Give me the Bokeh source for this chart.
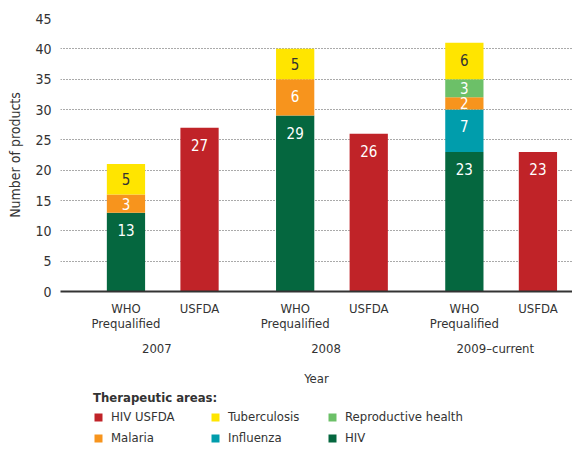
from bokeh.plotting import figure
from bokeh.layouts import column
from bokeh.models import (Range1d, FixedTicker, SingleIntervalTicker, LinearAxis,
                          Legend, LegendItem, ColumnDataSource)
from bokeh.embed import file_html
from bokeh.resources import INLINE
from bokeh.core.properties import value

# ---------------- data ----------------
years = ["2007", "2008", "2009\u2013current"]
sources = ["WHO\nPrequalified", "USFDA"]
hiv = [13, 29, 23]
influenza = [0, 0, 7]
malaria = [3, 6, 2]
reproductive = [0, 0, 3]
tuberculosis = [5, 5, 6]
hiv_usfda = [27, 26, 23]
y_ticks = [0, 5, 10, 15, 20, 25, 30, 35, 40, 45]
legend_title = "Therapeutic areas:"

# ---------------- style ----------------
FONT = "DejaVu Sans Condensed"
C_HIV = "#05673f"
C_INF = "#009dac"
C_MAL = "#f7941d"
C_REP = "#6cc068"
C_TB = "#ffe500"
C_USFDA = "#c02328"
TXT = "#333333"
GROUP_STEP = 2.3
BAR_W = 0.52
W = 572

who_x = [i * GROUP_STEP for i in range(len(years))]
usfda_x = [i * GROUP_STEP + 1 for i in range(len(years))]

p = figure(width=W, height=388,
           x_range=Range1d(-0.89, 6.07), y_range=Range1d(0, 45),
           output_backend="svg", toolbar_location=None,
           min_border_left=60, min_border_top=18, min_border_right=0,
           min_border_bottom=0)
p.outline_line_color = None
p.background_fill_color = "white"

stack_names = ["hiv", "influenza", "malaria", "reproductive", "tuberculosis"]
stack_colors = [C_HIV, C_INF, C_MAL, C_REP, C_TB]
src = ColumnDataSource(dict(x=who_x, hiv=hiv, influenza=influenza, malaria=malaria,
                            reproductive=reproductive, tuberculosis=tuberculosis))
rs = p.vbar_stack(stack_names, x="x", width=BAR_W, color=stack_colors, source=src,
                  line_color=None)
r_us = p.vbar(x=usfda_x, top=hiv_usfda, width=BAR_W, color=C_USFDA, line_color=None)

# ---------------- labels in bars ----------------
lx, ly, lt, lc = [], [], [], []
stacks = [hiv, influenza, malaria, reproductive, tuberculosis]
for gi in range(len(years)):
    base = 0
    for si, s in enumerate(stacks):
        v = s[gi]
        if v > 0:
            top = base + v
            lx.append(who_x[gi])
            ly.append(max(base + v / 2, top - 2.8))
            lt.append(str(v))
            lc.append(TXT if stack_colors[si] == C_TB else "white")
        base += v
    v = hiv_usfda[gi]
    lx.append(usfda_x[gi]); ly.append(max(v / 2, v - 2.8)); lt.append(str(v)); lc.append("white")

p.text(x=lx, y=ly, text=lt, text_color=lc, text_align="center", text_baseline="middle",
       text_font=value(FONT), text_font_size="15px")

# ---------------- axes ----------------
p.ygrid.ticker = SingleIntervalTicker(interval=5)
p.ygrid.grid_line_color = "#555555"
p.ygrid.grid_line_dash = "1 2"
p.ygrid.grid_line_width = 1
p.xgrid.grid_line_color = None

ya = p.yaxis[0]
ya.ticker = FixedTicker(ticks=y_ticks)
ya.axis_line_color = None
ya.major_tick_line_color = None
ya.minor_tick_line_color = None
ya.major_tick_out = 0
ya.major_label_standoff = 9
ya.major_label_text_font = FONT
ya.major_label_text_font_size = "14px"
ya.major_label_text_color = TXT
ya.axis_label = "Number of products"
ya.axis_label_text_font = FONT
ya.axis_label_text_font_size = "14px"
ya.axis_label_text_font_style = "normal"
ya.axis_label_text_color = TXT
ya.axis_label_standoff = 9

xa = p.xaxis[0]
ticks = who_x + usfda_x
xa.ticker = FixedTicker(ticks=ticks)
xa.major_label_overrides = {**{t: sources[0] for t in who_x}, **{t: sources[1] for t in usfda_x}}
xa.axis_line_color = "#333333"
xa.axis_line_width = 2
xa.major_tick_line_color = None
xa.minor_tick_line_color = None
xa.major_tick_out = 0
xa.major_label_standoff = 9
xa.major_label_text_font = FONT
xa.major_label_text_font_size = "13px"
xa.major_label_text_color = TXT
xa.major_label_text_line_height = 1.0

group_ticks = [x + 0.42 for x in who_x]
ga = LinearAxis(ticker=FixedTicker(ticks=group_ticks),
                major_label_overrides={t: y for t, y in zip(group_ticks, years)})
ga.axis_line_color = None
ga.major_tick_line_color = None
ga.minor_tick_line_color = None
ga.major_tick_out = 0
ga.major_label_standoff = 7
ga.major_label_text_font = FONT
ga.major_label_text_font_size = "13px"
ga.major_label_text_color = TXT
ga.axis_label = "Year"
ga.axis_label_text_font = FONT
ga.axis_label_text_font_size = "13px"
ga.axis_label_text_font_style = "normal"
ga.axis_label_text_color = TXT
ga.axis_label_standoff = 12
p.add_layout(ga, "below")

# ---------------- legend (own strip under the chart) ----------------
lg = figure(width=W, height=62, x_range=Range1d(-20, -19), y_range=Range1d(-20, -19),
            output_backend="svg", toolbar_location=None,
            x_axis_location=None, y_axis_location=None,
            min_border_left=0, min_border_right=0, min_border_top=0, min_border_bottom=0)
lg.grid.visible = False
lg.outline_line_color = None

legend_series = [
    ("HIV USFDA", usfda_x, hiv_usfda, C_USFDA),
    ("Malaria", who_x, malaria, C_MAL),
    ("Tuberculosis", who_x, tuberculosis, C_TB),
    ("Influenza", who_x, influenza, C_INF),
    ("Reproductive health", who_x, reproductive, C_REP),
    ("HIV", who_x, hiv, C_HIV),
]
items = []
for nm, xs, ys, c in legend_series:
    r = lg.vbar(x=xs, top=ys, width=BAR_W, color=c, line_color=None)
    items.append(LegendItem(label=nm, renderers=[r]))

leg = Legend(items=items, orientation="vertical", nrows=2,
             title=legend_title, title_text_font=FONT, title_text_font_size="13px",
             title_text_font_style="bold", title_text_color=TXT, title_standoff=4,
             label_text_font=FONT, label_text_font_size="13px", label_text_color=TXT,
             glyph_width=10, glyph_height=10, label_standoff=8, label_height=14,
             label_width=93, spacing=6, padding=0, margin=0,
             border_line_color=None, background_fill_alpha=0,
             location=(33, 5))
lg.add_layout(leg, "center")

open("out.html", "w").write(file_html(column(p, lg, spacing=0), INLINE))
